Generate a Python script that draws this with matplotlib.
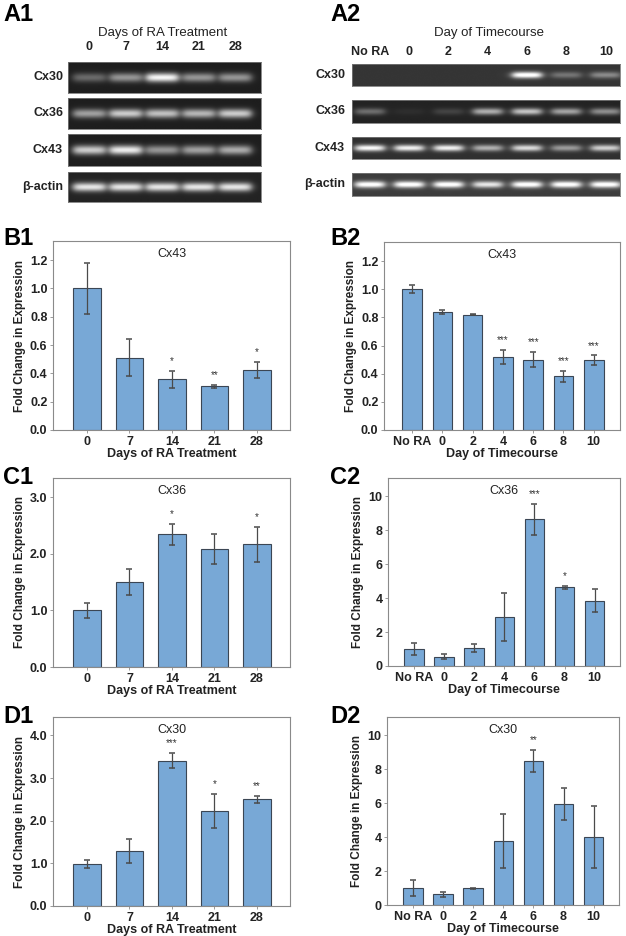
import numpy as np
import matplotlib.pyplot as plt

plt.rcParams['font.family'] = ['Liberation Sans', 'DejaVu Sans']

W, H = 626, 936

# gel lanes / rows
a1_lanes = ['0', '7', '14', '21', '28']
a2_lanes = ['No RA', '0', '2', '4', '6', '8', '10']
gel_rows = ['Cx30', 'Cx36', 'Cx43', 'β-actin']

# relative band brightness read off the gels (0 = no band)
a1_bands = [[0.35, 0.55, 1.00, 0.55, 0.55],
            [0.60, 0.80, 0.75, 0.70, 0.80],
            [0.80, 0.95, 0.55, 0.60, 0.65],
            [0.90, 0.90, 0.90, 0.90, 0.90]]
a2_bands = [[0.00, 0.00, 0.00, 0.00, 1.00, 0.30, 0.40],
            [0.35, 0.05, 0.15, 0.65, 0.75, 0.60, 0.50],
            [0.95, 0.90, 0.90, 0.60, 0.80, 0.50, 0.75],
            [0.95, 0.95, 0.95, 0.80, 0.95, 0.95, 0.95]]
a1_bg = [0.12, 0.12, 0.12, 0.14]
a2_bg = [0.21, 0.14, 0.19, 0.24]

# qPCR fold change
days_ra = ['0', '7', '14', '21', '28']
days_tc = ['No RA', '0', '2', '4', '6', '8', '10']

b1_mean = [1.00, 0.51, 0.36, 0.31, 0.425]
b1_err = [0.18, 0.13, 0.06, 0.01, 0.055]
b1_sig = ['', '', '*', '**', '*']

b2_mean = [1.00, 0.84, 0.82, 0.52, 0.50, 0.38, 0.495]
b2_err = [0.03, 0.015, 0.006, 0.05, 0.055, 0.04, 0.035]
b2_sig = ['', '', '', '***', '***', '***', '***']

c1_mean = [1.00, 1.50, 2.345, 2.085, 2.17]
c1_err = [0.135, 0.235, 0.19, 0.27, 0.31]
c1_sig = ['', '', '*', '', '*']

c2_mean = [1.00, 0.55, 1.08, 2.90, 8.65, 4.63, 3.84]
c2_err = [0.35, 0.15, 0.23, 1.43, 0.92, 0.08, 0.67]
c2_sig = ['', '', '', '', '***', '*', '']

d1_mean = [0.99, 1.29, 3.41, 2.23, 2.50]
d1_err = [0.09, 0.29, 0.18, 0.40, 0.09]
d1_sig = ['', '', '***', '*', '**']

d2_mean = [1.02, 0.63, 0.98, 3.78, 8.47, 5.94, 4.00]
d2_err = [0.48, 0.15, 0.05, 1.60, 0.66, 0.93, 1.81]
d2_sig = ['', '', '', '', '**', '', '']

BAR = '#78a8d6'
EDGE = '#3b4654'
ERR = '#4a4a4a'
SPINE = '#8a8a8a'
TXT = '#222222'

fig = plt.figure(figsize=(W / 100, H / 100), dpi=100)


def px_axes(l, t, r, b):
    return fig.add_axes([l / W, 1 - b / H, (r - l) / W, (b - t) / H])


def panel_label(x, y, s):
    fig.text(x / W, 1 - y / H, s, fontsize=17, fontweight='bold',
             ha='left', va='top')


def gel(left, right, tops, bots, lanes, bands, bgs, xlim, bw, label_x,
        title, title_x):
    xs = np.linspace(xlim[0], xlim[1], 500)
    ys = np.linspace(-1, 1, 60)
    axes = []
    for row, t, b, vals, bg in zip(gel_rows, tops, bots, bands, bgs):
        ax = px_axes(left, t, right, b)
        axes.append(ax)
        img = np.full((ys.size, xs.size), bg)
        for i, v in enumerate(vals):
            hx = 1 / (1 + np.exp((np.abs(xs - i) - bw / 2) / 0.06))
            hy = np.exp(-(ys / 0.3) ** 2)
            img += v * np.outer(hy, hx) * 0.85
        ax.imshow(np.clip(img, 0, 1), cmap='gray', vmin=0, vmax=1,
                  aspect='auto', extent=[xlim[0], xlim[1], -1, 1])
        ax.set_xlim(xlim)
        ax.set_xticks([])
        ax.set_yticks([])
        for sp in ax.spines.values():
            sp.set_color('#777777')
            sp.set_linewidth(0.6)
        fig.text(label_x / W, 1 - (t + b) / 2 / H, row, fontsize=9,
                 fontweight='bold', ha='right', va='center', color=TXT)
    top = axes[0]
    for i, lab in enumerate(lanes):
        top.text(i, 1.28, lab, transform=top.get_xaxis_transform(),
                 ha='center', va='bottom', fontsize=9, fontweight='bold',
                 color=TXT)
    fig.text(title_x / W, 1 - 33 / H, title, fontsize=9.5,
             ha='center', va='center', color=TXT)


def bar_panel(box, cats, mean, err, sig, ylim, yticks, fmt, title, xlab,
              xlim):
    ax = px_axes(*box)
    x = np.arange(len(cats))
    ax.bar(x, mean, width=0.65, color=BAR, edgecolor=EDGE, linewidth=0.8,
           zorder=2)
    ax.errorbar(x, mean, yerr=err, fmt='none', ecolor=ERR, elinewidth=0.9,
                capsize=2.5, capthick=1.1, zorder=3)
    span = ylim[1] - ylim[0]
    for xi, m, e, s in zip(x, mean, err, sig):
        if s:
            ax.text(xi, m + e + 0.025 * span, s, ha='center', va='bottom',
                    fontsize=7, color='#333333')
    ax.set_xlim(xlim)
    ax.set_ylim(ylim)
    ax.set_yticks(yticks)
    ax.set_yticklabels([fmt.format(v) for v in yticks])
    ax.set_xticks(x)
    ax.set_xticklabels(cats)
    for lab in ax.get_xticklabels() + ax.get_yticklabels():
        lab.set_fontweight('bold')
        lab.set_fontsize(9)
        lab.set_color(TXT)
    ax.tick_params(length=2.5, width=0.6, color=SPINE, pad=1.5)
    for sp in ax.spines.values():
        sp.set_color(SPINE)
        sp.set_linewidth(0.8)
    ax.text(0.5, 0.965, title, transform=ax.transAxes, ha='center',
            va='top', fontsize=9, color=TXT)
    ax.set_ylabel('Fold Change in Expression', fontsize=8.5,
                  fontweight='bold', color=TXT, labelpad=3)
    ax.set_xlabel(xlab, fontsize=9, fontweight='bold', color=TXT,
                  labelpad=0)
    return ax


# A panels
panel_label(3, 3, 'A1')
gel(68, 261, [62, 98, 134, 172], [93, 129, 166, 202], a1_lanes, a1_bands,
    a1_bg, (-0.58, 4.70), 0.88, 63, 'Days of RA Treatment', 163)
panel_label(330, 3, 'A2')
gel(352, 620, [64, 100, 137, 173], [86, 123, 159, 196], a2_lanes, a2_bands,
    a2_bg, (-0.45, 6.36), 0.74, 345, 'Day of Timecourse', 489)

ra_lab = 'Days of RA Treatment'
tc_lab = 'Day of Timecourse'

panel_label(3, 227, 'B1')
bar_panel((53, 241, 290, 430), days_ra, b1_mean, b1_err, b1_sig, (0, 1.335),
          [0, 0.2, 0.4, 0.6, 0.8, 1.0, 1.2], '{:.1f}', 'Cx43', ra_lab,
          (-0.8, 4.78))
panel_label(330, 227, 'B2')
bar_panel((384, 242, 620, 430), days_tc, b2_mean, b2_err, b2_sig, (0, 1.335),
          [0, 0.2, 0.4, 0.6, 0.8, 1.0, 1.2], '{:.1f}', 'Cx43', tc_lab,
          (-0.93, 6.87))

panel_label(3, 466, 'C1')
bar_panel((53, 478, 290, 667), days_ra, c1_mean, c1_err, c1_sig, (0, 3.34),
          [0, 1, 2, 3], '{:.1f}', 'Cx36', ra_lab, (-0.8, 4.78))
panel_label(330, 466, 'C2')
bar_panel((388, 478, 620, 666), days_tc, c2_mean, c2_err, c2_sig, (0, 11.08),
          [0, 2, 4, 6, 8, 10], '{:.0f}', 'Cx36', tc_lab, (-0.86, 6.84))

panel_label(3, 705, 'D1')
bar_panel((53, 717, 290, 906), days_ra, d1_mean, d1_err, d1_sig, (0, 4.43),
          [0, 1, 2, 3, 4], '{:.1f}', 'Cx30', ra_lab, (-0.8, 4.78))
panel_label(330, 705, 'D2')
bar_panel((387, 717, 619, 905), days_tc, d2_mean, d2_err, d2_sig, (0, 11.08),
          [0, 2, 4, 6, 8, 10], '{:.0f}', 'Cx30', tc_lab, (-0.86, 6.84))

fig.savefig('out.png', dpi=100)
